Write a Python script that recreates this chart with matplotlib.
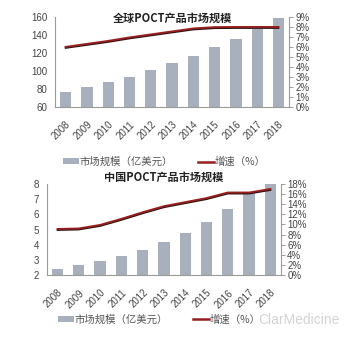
import matplotlib as mpl
mpl.use('Agg')
import matplotlib.pyplot as plt
from matplotlib.patches import Patch
from matplotlib.lines import Line2D
import numpy as np

plt.rcParams['font.family'] = ['Liberation Sans', 'Noto Sans CJK SC', 'DejaVu Sans']

# -- Data
years = ['2008', '2009', '2010', '2011', '2012', '2013',
         '2014', '2015', '2016', '2017', '2018']
global_size = [77, 82, 87.5, 93.5, 100.5, 108.5, 117, 126.5, 136, 147, 159]
global_growth = [6.0, 6.3, 6.6, 6.95, 7.25, 7.55, 7.85, 7.98, 8.0, 8.0, 8.0]
china_size = [2.43, 2.66, 2.92, 3.25, 3.67, 4.15, 4.77, 5.49, 6.35, 7.4, 8.0]
china_growth = [9.1, 9.2, 9.9, 11.1, 12.4, 13.6, 14.4, 15.2, 16.3, 16.3, 17.0]

bar_color = '#A7B0BC'
line_color = '#951E1E'
grey = '#9A9A9A'
text_color = '#444444'
cjk = ['Noto Sans CJK SC', 'DejaVu Sans']


def panel(rect, size, growth, ylim, yticks, rlim, rticks, title, title_y):
    ax = fig.add_axes(rect)
    x = np.arange(len(years))
    ax.bar(x, size, width=0.53, color=bar_color, bottom=0)
    ax.set_xlim(-0.5, len(years) - 0.5)
    ax.set_ylim(*ylim)
    ax.set_yticks(yticks)
    ax.set_xticks(x)
    ax.set_xticklabels(years, rotation=45, ha='right', rotation_mode='anchor')
    ax.tick_params(axis='x', length=0, labelsize=7, colors=text_color, pad=9)
    ax.tick_params(axis='y', length=0, labelsize=7, colors=text_color, pad=5.5)
    for s in ['top', 'right']:
        ax.spines[s].set_visible(False)
    for s in ['left', 'bottom']:
        ax.spines[s].set_color(grey)
        ax.spines[s].set_linewidth(0.8)

    ax2 = ax.twinx()
    ax2.plot(x, np.array(growth) - 0.012 * (rlim[1] - rlim[0]), color='#2a1010', lw=1.2)
    ax2.plot(x, growth, color=line_color, lw=1.4)
    ax2.set_ylim(*rlim)
    ax2.set_yticks(rticks)
    ax2.set_yticklabels(['%d%%' % t for t in rticks])
    ax2.tick_params(axis='y', length=3, width=0.7, color=grey, labelsize=7,
                    colors=text_color, pad=1.5)
    for s in ['top', 'left', 'bottom']:
        ax2.spines[s].set_visible(False)
    ax2.spines['right'].set_color(grey)
    ax2.spines['right'].set_linewidth(0.8)

    fig.text(rect[0] + rect[2] * 0.5, title_y, title, ha='center', va='center',
             fontsize=8, fontweight='bold', family=cjk, color='#222222')
    return ax


fig = plt.figure(figsize=(3.5, 3.4), dpi=100)

panel([0.157, 0.686, 0.669, 0.264], global_size, global_growth,
      (60, 160), np.arange(60, 161, 20), (0, 9), range(0, 10),
      '全球POCT产品市场规模', 0.945)
panel([0.134, 0.191, 0.669, 0.268], china_size, china_growth,
      (2, 8), range(2, 9), (0, 18), range(0, 19, 2),
      '中国POCT产品市场规模', 0.478)

handles = [Patch(facecolor=bar_color, edgecolor='none'),
           Line2D([0], [0], color=line_color, lw=1.8)]
labels = ['市场规模（亿美元）', '增速（%）']
for y, x0 in [(0.524, 0.47), (0.060, 0.455)]:
    fig.legend(handles, labels, loc='center', bbox_to_anchor=(x0, y), ncol=2,
               frameon=False, handlelength=1.5, handleheight=0.5,
               handletextpad=0.1, columnspacing=2.4,
               prop={'family': cjk, 'size': 7.5}, labelcolor='#555555')

fig.text(0.97, 0.06, 'ClarMedicine', ha='right', va='center', fontsize=10,
         color='#C8C8C8', alpha=0.8, family=['Liberation Sans'])

fig.savefig('out.png', dpi=100)
